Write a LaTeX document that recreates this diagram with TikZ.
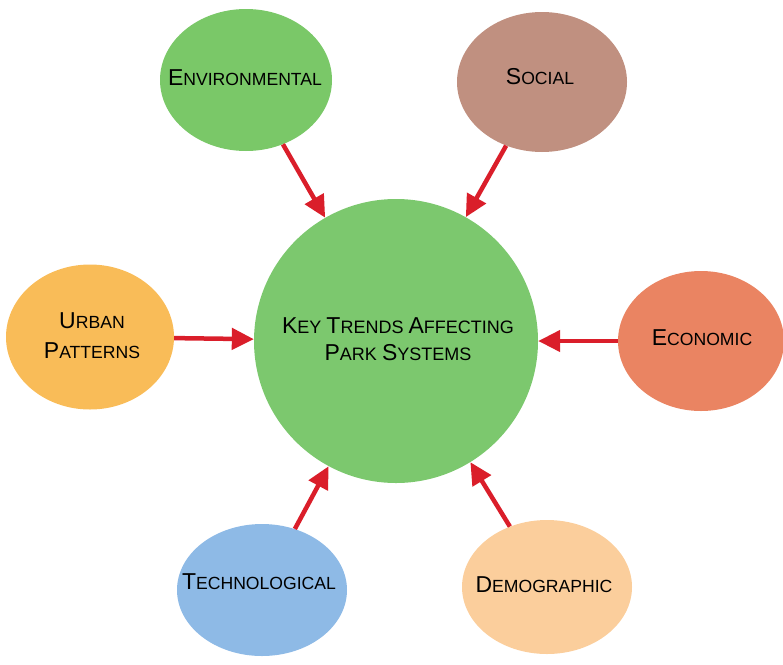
\documentclass[tikz,border=0pt]{standalone}
\usepackage{fontspec}
\setmainfont{Liberation Sans}
\usetikzlibrary{shapes.geometric, arrows.meta}

\definecolor{hubgreen}{RGB}{124,200,110}
\definecolor{envgreen}{RGB}{122,200,104}
\definecolor{socialrose}{RGB}{192,144,128}
\definecolor{urbanorange}{RGB}{249,188,88}
\definecolor{econcoral}{RGB}{234,132,98}
\definecolor{techblue}{RGB}{142,186,230}
\definecolor{demopeach}{RGB}{251,206,156}
\definecolor{arrowred}{RGB}{218,30,42}

% first letter big, the rest as small capitals
\newcommand{\capword}[2]{{\fontsize{23}{30}\selectfont #1}#2}

\tikzstyle{trend} = [ellipse, minimum width=170pt, minimum height=140pt, inner sep=0pt]
\tikzstyle{hub} = [circle, minimum size=284pt, inner sep=0pt, fill=hubgreen]
\tikzstyle{caption} = [text=black, align=center, font=\fontsize{17.6}{30}\selectfont]
\tikzstyle{arrow} = [line width=4.5pt, draw=arrowred, -{Triangle[length=22pt,width=21pt]}]

\begin{document}
\begin{tikzpicture}[x=1pt, y=-1pt]
      \useasboundingbox (0,0) rectangle (783,664);

      \node (key) [hub] at (396,341) {};
      \node (env) [trend, fill=envgreen, minimum width=172pt, minimum height=142pt] at (246,80) {};
      \node (social) [trend, fill=socialrose] at (542,82) {};
      \node (urban) [trend, fill=urbanorange, minimum width=168pt, minimum height=145pt] at (90,337) {};
      \node (econ) [trend, fill=econcoral, minimum width=166pt] at (701,341) {};
      \node (tech) [trend, fill=techblue, minimum height=132pt] at (262,590) {};
      \node (demo) [trend, fill=demopeach, minimum height=134pt] at (547,587) {};

      \node (keytxt) [caption, font=\fontsize{18}{27}\selectfont] at (398,339)
            {\capword{K}{EY} \capword{T}{RENDS} \capword{A}{FFECTING}\\ \capword{P}{ARK} \capword{S}{YSTEMS}};
      \node (envtxt) [caption] at (245,78) {\capword{E}{NVIRONMENTAL}};
      \node (socialtxt) [caption] at (540,77) {\capword{S}{OCIAL}};
      \node (urbantxt) [caption] at (92,336) {\capword{U}{RBAN}\\ \capword{P}{ATTERNS}};
      \node (econtxt) [caption] at (702,338) {\capword{E}{CONOMIC}};
      \node (techtxt) [caption] at (259,582) {\capword{T}{ECHNOLOGICAL}};
      \node (demotxt) [caption] at (544,585) {\capword{D}{EMOGRAPHIC}};

      \draw[arrow] (env) -- (key);
      \draw[arrow] (social) -- (key);
      \draw[arrow] (urban) -- (key);
      \draw[arrow] (econ) -- (key);
      \draw[arrow] (tech) -- (key);
      \draw[arrow] (demo) -- (key);
    \end{tikzpicture}
\end{document}
